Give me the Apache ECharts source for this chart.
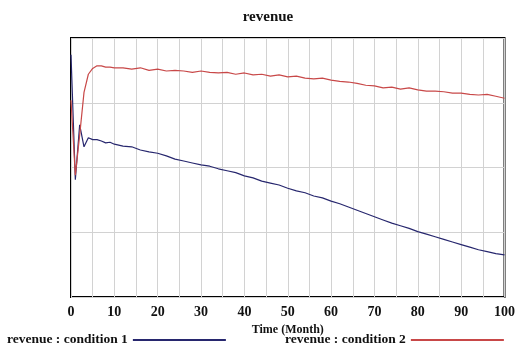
<!DOCTYPE html>
<html>
<head>
<meta charset="utf-8">
<script src="https://cdn.jsdelivr.net/npm/echarts@6/dist/echarts.min.js"></script>
<style>
  html, body { margin: 0; padding: 0; background: #fff; }
  #chart { width: 518px; height: 364px; }
</style>
</head>
<body>
<div id="chart"></div>
<script>
var months = [0, 1, 2, 3, 4, 5, 6, 7, 8, 9, 10, 12, 14, 16, 18, 20, 22, 24, 26, 28, 30,
  32, 34, 36, 38, 40, 42, 44, 46, 48, 50, 52, 54, 56, 58, 60, 62, 64, 66, 68, 70,
  72, 74, 76, 78, 80, 82, 84, 86, 88, 90, 92, 94, 96, 98, 100]
// revenue, condition 1 (blue)
var cond1 = [374, 181, 266, 232, 246, 243, 243, 241, 238, 239, 236, 233, 232, 227, 224, 222, 218, 213, 210, 207, 204,
  202, 198, 195, 192, 187, 184, 179, 176, 173, 168, 164, 161, 156, 153, 148, 144, 139, 134, 129, 124,
  119, 114, 110, 106, 101, 97, 93, 89, 85, 81, 77, 73, 70, 67, 65]
// revenue, condition 2 (red)
var cond2 = [304, 188, 250, 316, 344, 353, 357, 357, 355, 355, 354, 354, 352, 354, 350, 352, 349, 350, 349, 347, 349,
  347, 346, 347, 344, 346, 343, 344, 341, 343, 340, 341, 338, 337, 338, 335, 333, 332, 330, 327, 326,
  323, 324, 321, 323, 320, 318, 318, 317, 315, 315, 313, 312, 313, 310, 307]
var xTicks = [0, 10, 20, 30, 40, 50, 60, 70, 80, 90, 100]

var serif = '"Liberation Serif", "DejaVu Serif", serif'
var chart = echarts.init(document.getElementById('chart'))

function pairs (ys) {
  return months.map(function (m, i) { return [m, ys[i]] })
}

chart.setOption({
  animation: false,
  title: {
    text: 'revenue',
    left: 263,
    textAlign: 'center',
    top: 5,
    textStyle: { fontFamily: serif, fontSize: 15, fontWeight: 'bold', color: '#111' }
  },
  legend: [
    {
      left: 2,
      top: 328,
      align: 'right',
      itemWidth: 93,
      itemHeight: 2,
      data: ['revenue : condition 1'],
      textStyle: { fontFamily: serif, fontSize: 13.5, fontWeight: 'bold', color: '#111' }
    },
    {
      left: 280,
      top: 328,
      align: 'right',
      itemWidth: 93,
      itemHeight: 2,
      data: ['revenue : condition 2'],
      textStyle: { fontFamily: serif, fontSize: 13.5, fontWeight: 'bold', color: '#111' }
    }
  ],
  grid: {
    left: 71,
    right: 11,
    top: 38,
    bottom: 67,
    show: true,
    borderColor: '#000',
    borderWidth: 2
  },
  xAxis: {
    type: 'value',
    min: 0,
    max: 100,
    interval: 5,
    name: 'Time (Month)',
    nameLocation: 'middle',
    nameGap: 24,
    nameTextStyle: { fontFamily: serif, fontSize: 12, fontWeight: 'bold', color: '#111' },
    axisLine: { show: false },
    axisTick: { show: false },
    axisLabel: {
      margin: 8,
      fontFamily: serif,
      fontSize: 14,
      fontWeight: 'bold',
      color: '#111',
      formatter: function (v) { return xTicks.indexOf(v) >= 0 ? String(v) : '' }
    },
    splitLine: { show: true, lineStyle: { color: '#d2d2d2', width: 1 } }
  },
  yAxis: {
    type: 'value',
    min: 0,
    max: 400,
    interval: 100,
    axisLine: { show: false },
    axisTick: { show: false },
    axisLabel: { show: false },
    splitLine: { show: true, lineStyle: { color: '#d2d2d2', width: 1 } }
  },
  series: [
    {
      name: 'revenue : condition 1',
      type: 'line',
      symbol: 'none',
      data: pairs(cond1),
      lineStyle: { color: '#27276e', width: 1.2 },
      itemStyle: { color: '#27276e' }
    },
    {
      name: 'revenue : condition 2',
      type: 'line',
      symbol: 'none',
      data: pairs(cond2),
      lineStyle: { color: '#c84848', width: 1.2 },
      itemStyle: { color: '#c84848' }
    }
  ]
})
</script>
</body>
</html>
